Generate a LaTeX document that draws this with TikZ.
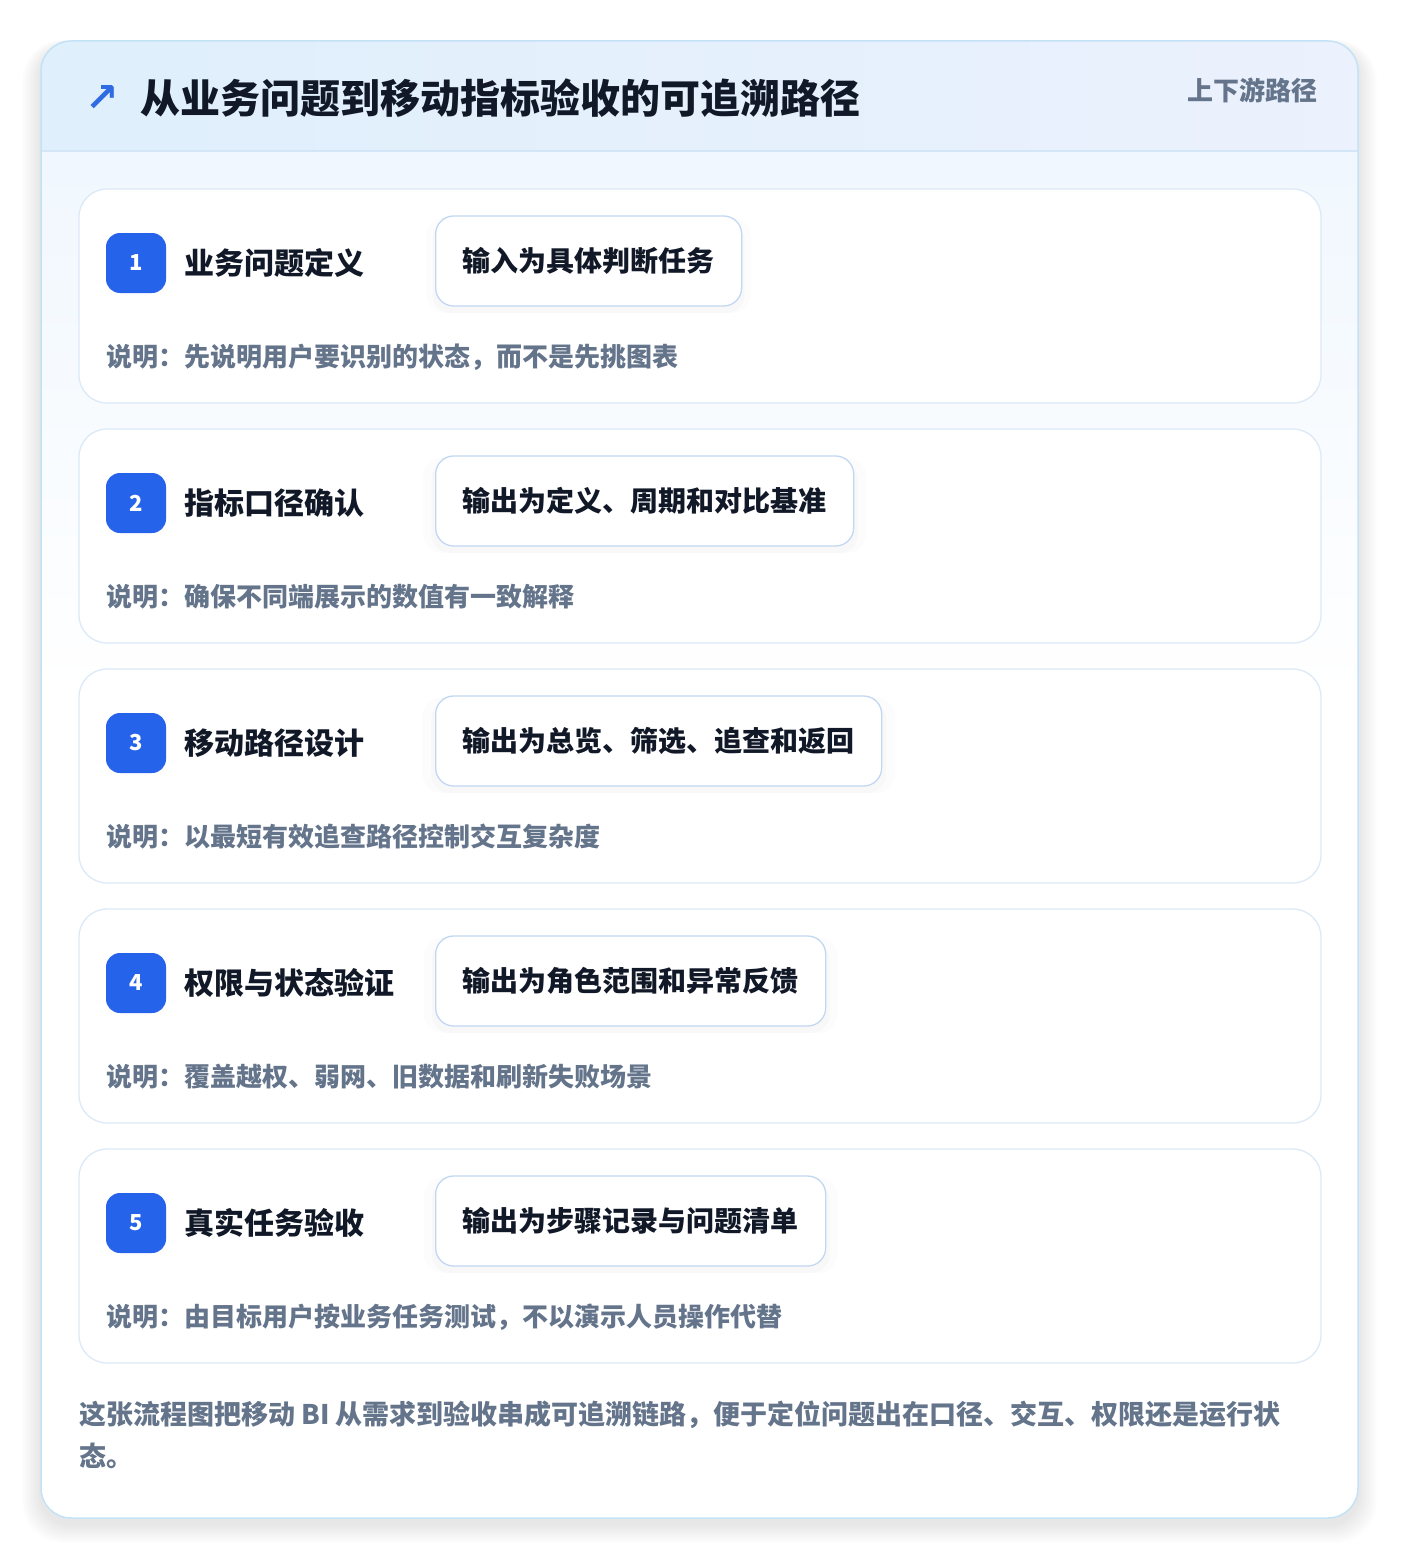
\documentclass[tikz,border=0pt]{standalone}
\usepackage{fontspec}
\setmainfont{Noto Sans CJK SC}
\newfontfamily\symfont{DejaVu Sans}
\usetikzlibrary{positioning,shadows}

\definecolor{pagebg}{HTML}{FFFFFF}
\definecolor{frame}{HTML}{C4E2F6}
\definecolor{headl}{HTML}{DFEFFC}
\definecolor{headr}{HTML}{EBF1FD}
\definecolor{headline}{HTML}{D3E6F7}
\definecolor{bodytop}{HTML}{F0F7FE}
\definecolor{cardline}{HTML}{DCE9F7}
\definecolor{outline}{HTML}{C2D7F2}
\definecolor{badgeblue}{HTML}{2563EB}
\definecolor{iconblue}{HTML}{2F6BE3}
\definecolor{ink}{HTML}{111827}
\definecolor{slate}{HTML}{64748B}

\begin{document}
\begin{tikzpicture}[x=1pt,y=-1pt,
    stepcard/.style={draw=cardline,line width=1.3pt,fill=white,rounded corners=28pt},
    badge/.style={fill=badgeblue,rounded corners=14pt,minimum width=60pt,minimum height=60pt,
      inner sep=0pt,text=white,font=\fontsize{22}{26}\selectfont\bfseries},
    steptitle/.style={inner sep=0pt,text=ink,font=\fontsize{30}{36}\selectfont\bfseries},
    outbox/.style={draw=outline,line width=1.3pt,fill=white,rounded corners=18pt,
      inner xsep=27pt,inner ysep=0pt,minimum height=90pt,anchor=west,text=ink,
      font=\fontsize{28}{34}\selectfont\bfseries,
      drop shadow={opacity=0.025,shadow xshift=0pt,shadow yshift=-4pt,shadow scale=1.06},
      drop shadow={opacity=0.03,shadow xshift=0pt,shadow yshift=-6pt,shadow scale=1.02}},
    note/.style={anchor=west,inner sep=0pt,text=slate,font=\fontsize{26}{30}\selectfont\bfseries}]

  % page and soft shadow
  \useasboundingbox (0,0) rectangle (1400,1560);
  \fill[pagebg] (0,0) rectangle (1400,1560);
  \foreach \i in {1,...,12}
    \fill[black,opacity=0.008,rounded corners=30pt+\i pt] (41-1.6*\i,41-0.6*\i+6) rectangle (1358+1.6*\i,1518+1.6*\i+6);

  % outer card with header band
  \begin{scope}
    \clip[rounded corners=30pt] (41,41) rectangle (1358,1518);
    \fill[white] (41,41) rectangle (1358,1518);
    \shade[top color=bodytop,bottom color=white] (41,151) rectangle (1358,700);
    \shade[left color=headl,right color=headr] (41,41) rectangle (1358,151);
  \end{scope}
  \draw[headline,line width=1.2pt] (41,151) -- (1358,151);
  \draw[frame,line width=1.5pt,rounded corners=30pt] (41,41) rectangle (1358,1518);

  % header texts
  \node[anchor=center,inner sep=0pt,text=iconblue,font=\symfont\fontsize{40}{44}\selectfont\bfseries] (icon) at (102,99) {↗};
  \node[anchor=west,inner sep=0pt,text=ink,font=\fontsize{40}{46}\selectfont\bfseries] (title) at (140,98) {从业务问题到移动指标验收的可追溯路径};
  \node[anchor=east,inner sep=0pt,text=slate,font=\fontsize{26}{30}\selectfont\bfseries] (tag) at (1318,90) {上下游路径};

  % the five steps
  \foreach \n/\head/\out/\desc [count=\i from 0] in {
      1/业务问题定义/输入为具体判断任务/说明：先说明用户要识别的状态，而不是先挑图表,
      2/指标口径确认/输出为定义、周期和对比基准/说明：确保不同端展示的数值有一致解释,
      3/移动路径设计/输出为总览、筛选、追查和返回/说明：以最短有效追查路径控制交互复杂度,
      4/权限与状态验证/输出为角色范围和异常反馈/说明：覆盖越权、弱网、旧数据和刷新失败场景,
      5/真实任务验收/输出为步骤记录与问题清单/说明：由目标用户按业务任务测试，不以演示人员操作代替}{
    \pgfmathsetmacro\top{189+240*\i}
    \draw[stepcard] (79,\top) rectangle (1321,\top+214);
    \node[badge] (badge\n) at (136,\top+74) {\n};
    \node[steptitle,right=18pt of badge\n] (head\n) {\head};
    \node[outbox] (out\n) at (435,\top+72) {\out};
    \node[note] (desc\n) at (106,\top+168) {\desc};
  }

  % closing remark
  \node[anchor=west,inner sep=0pt,align=left,text=slate,font=\fontsize{27}{42}\selectfont\bfseries] (remark) at (79,1435)
    {这张流程图把移动 BI 从需求到验收串成可追溯链路，便于定位问题出在口径、交互、权限还是运行状\\态。};
\end{tikzpicture}
\end{document}
